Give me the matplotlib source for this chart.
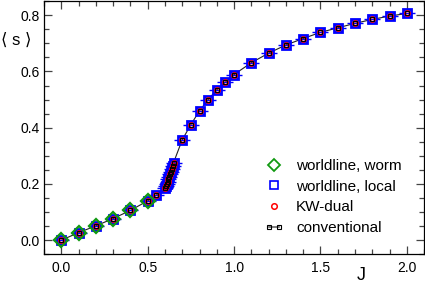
import numpy as np
import matplotlib
matplotlib.use("Agg")
import matplotlib.pyplot as plt
from matplotlib.ticker import MultipleLocator
from matplotlib.legend_handler import HandlerLine2D

plt.rcParams['font.family'] = ['Liberation Sans', 'DejaVu Sans']

# worldline, worm (only small J)
J_worm = [0.0, 0.1, 0.2, 0.3, 0.4, 0.5]
s_worm = [0.0, 0.027, 0.051, 0.077, 0.106, 0.140]

# shared J grid for local / KW-dual / conventional
J_all = [0.0, 0.1, 0.2, 0.3, 0.4, 0.5, 0.55, 0.6, 0.605, 0.61, 0.615, 0.62,
         0.625, 0.63, 0.635, 0.64, 0.645, 0.65, 0.7, 0.75, 0.8, 0.85, 0.9,
         0.95, 1.0, 1.1, 1.2, 1.3, 1.4, 1.5, 1.6, 1.7, 1.8, 1.9, 2.0]
s_all = [0.0, 0.027, 0.051, 0.077, 0.106, 0.140, 0.160, 0.186, 0.193, 0.200,
         0.208, 0.217, 0.226, 0.235, 0.244, 0.253, 0.264, 0.276, 0.357, 0.411,
         0.460, 0.500, 0.535, 0.562, 0.589, 0.631, 0.665, 0.694, 0.717, 0.739,
         0.755, 0.771, 0.785, 0.797, 0.806]

fig = plt.figure(figsize=(4.25, 2.84), dpi=100)
ax = fig.add_axes([0.1035, 0.1046, 0.8945, 0.8915])

ax.plot(J_all, s_all, '-', color='#222222', lw=0.8, zorder=1)
ax.plot(J_all, s_all, '_', color='blue', ms=11, mew=1.0, zorder=2)
ax.plot(J_all, s_all, 's', mfc='none', mec='blue', ms=5.5, mew=2.0, zorder=3)
ax.plot(J_worm, s_worm, 'D', mfc='none', mec='#119911', ms=7.5, mew=1.6, zorder=4)
ax.plot(J_all, s_all, 'o', mfc='none', mec='red', ms=3.5, mew=1.4, zorder=5)
ax.plot(J_all, s_all, 's', mfc='none', mec='black', ms=2.2, mew=0.8, zorder=6)

# legend handles
h1, = ax.plot([], [], 'D', mfc='none', mec='#119911', ms=6, mew=1.3)
h2, = ax.plot([], [], 's', mfc='none', mec='blue', ms=5.5, mew=1.2)
h3, = ax.plot([], [], 'o', mfc='none', mec='red', ms=4, mew=1.1)
h4, = ax.plot([], [], '-s', color='#666666', mfc='none', mec='black', ms=3, mew=0.8, lw=1.2)
ax.legend([h1, h2, h3, h4],
          ['worldline, worm', 'worldline, local', 'KW-dual', 'conventional'],
          loc='upper left', bbox_to_anchor=(0.623, 0.44), bbox_transform=fig.transFigure,
          frameon=False, fontsize=11, handlelength=1.2, handletextpad=0.85,
          labelspacing=0.44, borderpad=0, borderaxespad=0, numpoints=1,
          handler_map={h4: HandlerLine2D(numpoints=2)})

ax.set_xlim(-0.1, 2.1)
ax.set_ylim(-0.05, 0.85)
ax.xaxis.set_major_locator(MultipleLocator(0.5))
ax.xaxis.set_minor_locator(MultipleLocator(0.1))
ax.yaxis.set_major_locator(MultipleLocator(0.2))
ax.yaxis.set_minor_locator(MultipleLocator(0.05))
ax.tick_params(which='both', direction='in', top=True, right=True, labelsize=10,
               color='#444444', width=0.9)
ax.tick_params(which='major', length=6)
ax.tick_params(which='minor', length=3.5)
ax.tick_params(axis='x', pad=5)
ax.tick_params(axis='y', pad=3)
for sp in ax.spines.values():
    sp.set_linewidth(0.9)

fig.text(16 / 425, 1 - 40 / 284, '⟨ s ⟩', fontsize=12, ha='center', va='center')
fig.text(361 / 425, 1 - 276 / 284, 'J', fontsize=13, ha='center', va='center')

fig.savefig('out.png', dpi=100)
